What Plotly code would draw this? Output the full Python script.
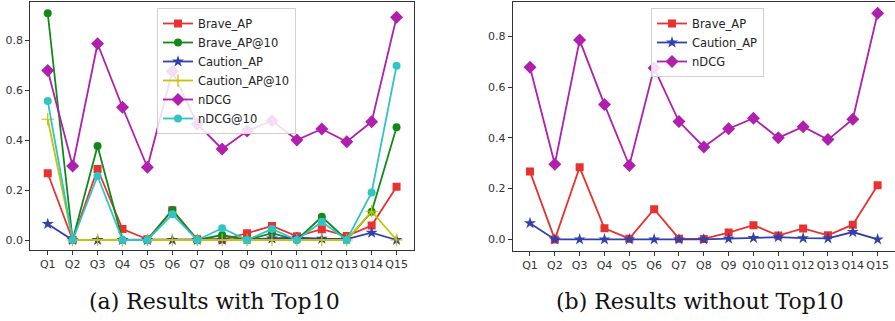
import plotly.graph_objects as go

queries = [f"Q{i}" for i in range(1, 16)]

brave_ap = [0.267, 0.0, 0.284, 0.044, 0.003, 0.119, 0.003, 0.002, 0.027, 0.056, 0.015, 0.043, 0.016, 0.058, 0.213]
brave_ap10 = [0.907, 0.0, 0.376, 0.0, 0.0, 0.12, 0.0, 0.02, 0.0, 0.027, 0.0, 0.093, 0.0, 0.113, 0.451]
caution_ap = [0.064, 0.0, 0.0, 0.0, 0.0, 0.0, 0.0, 0.0, 0.003, 0.006, 0.009, 0.005, 0.004, 0.029, 0.0]
caution_ap10 = [0.483, 0.0, 0.0, 0.0, 0.0, 0.0, 0.0, 0.0, 0.0, 0.0, 0.0, 0.0, 0.0, 0.115, 0.0]
ndcg = [0.678, 0.296, 0.785, 0.531, 0.291, 0.675, 0.464, 0.364, 0.436, 0.477, 0.400, 0.444, 0.393, 0.473, 0.891]
ndcg10 = [0.556, 0.0, 0.256, 0.0, 0.0, 0.103, 0.0, 0.047, 0.0, 0.044, 0.0, 0.073, 0.0, 0.19, 0.697]

yticks = [0.0, 0.2, 0.4, 0.6, 0.8]
ytick_text = ["0.0", "0.2", "0.4", "0.6", "0.8"]

RED = "#e8322f"
GREEN = "#11891a"
BLUE = "#3141ab"
YELLOW = "#c4c400"
MAGENTA = "#b01fae"
CYAN = "#32c4c4"

W, H = 895, 321

fig = go.Figure()

def add(name, y, color, symbol, size, xa, ya, legend):
    fig.add_trace(go.Scatter(
        x=queries, y=y, name=name, mode="lines+markers",
        line=dict(color=color, width=1.8),
        marker=dict(color=color, symbol=symbol, size=size,
                    line=dict(color=color, width=1.2 if symbol == "cross-thin" else 0)),
        xaxis=xa, yaxis=ya, legend=legend,
    ))

# left panel
add("Brave_AP", brave_ap, RED, "square", 8, "x", "y", "legend")
add("Brave_AP@10", brave_ap10, GREEN, "circle", 8, "x", "y", "legend")
add("Caution_AP", caution_ap, BLUE, "star", 9, "x", "y", "legend")
add("Caution_AP@10", caution_ap10, YELLOW, "cross-thin", 9, "x", "y", "legend")
add("nDCG", ndcg, MAGENTA, "diamond", 10, "x", "y", "legend")
add("nDCG@10", ndcg10, CYAN, "circle", 8, "x", "y", "legend")

# right panel
add("Brave_AP", brave_ap, RED, "square", 8, "x2", "y2", "legend2")
add("Caution_AP", caution_ap, BLUE, "star", 9, "x2", "y2", "legend2")
add("nDCG", ndcg, MAGENTA, "diamond", 10, "x2", "y2", "legend2")

axis_common = dict(showline=True, mirror=True, linecolor="#333333", linewidth=1,
                   ticks="outside", ticklen=4, tickcolor="#333333", showgrid=False,
                   zeroline=False, tickfont=dict(family="DejaVu Sans", size=11, color="#333333"))

def px_x(a, b):
    return [a / W, min(b / W, 1.0)]

def px_y(top, bottom):
    return [1 - bottom / H, 1 - top / H]

fig.update_layout(
    width=W, height=H, margin=dict(l=0, r=0, t=0, b=0),
    paper_bgcolor="white", plot_bgcolor="white",
    showlegend=True,
    xaxis=dict(domain=px_x(30.3, 414), anchor="y", range=[-0.7, 14.7], type="category", **axis_common),
    yaxis=dict(domain=px_y(2, 250), anchor="x", range=[-0.04, 0.952], tickvals=yticks, ticktext=ytick_text, **axis_common),
    xaxis2=dict(domain=px_x(512.6, 896), anchor="y2", range=[-0.7, 14.7], type="category", **axis_common),
    yaxis2=dict(domain=px_y(2, 250.7), anchor="x2", range=[-0.0445, 0.935], tickvals=yticks, ticktext=ytick_text, **axis_common),
    legend=dict(x=157 / W, y=1 - 8 / H, xanchor="left", yanchor="top",
                bgcolor="rgba(255,255,255,0.85)", bordercolor="#d0d0d0", borderwidth=1,
                font=dict(family="DejaVu Sans", size=11.5, color="#222222"),
                tracegroupgap=0, itemwidth=30),
    legend2=dict(x=651 / W, y=1 - 8 / H, xanchor="left", yanchor="top",
                 bgcolor="rgba(255,255,255,0.85)", bordercolor="#d0d0d0", borderwidth=1,
                 font=dict(family="DejaVu Sans", size=11.5, color="#222222"),
                 tracegroupgap=0, itemwidth=30),
    annotations=[
        dict(text="(a) Results with Top10", x=214 / W, y=1 - 301 / H, xref="paper", yref="paper",
             showarrow=False, xanchor="center", yanchor="middle",
             font=dict(family="DejaVu Serif", size=22, color="#111111")),
        dict(text="(b) Results without Top10", x=700 / W, y=1 - 301 / H, xref="paper", yref="paper",
             showarrow=False, xanchor="center", yanchor="middle",
             font=dict(family="DejaVu Serif", size=22, color="#111111")),
    ],
)

fig.write_html("out.html")
